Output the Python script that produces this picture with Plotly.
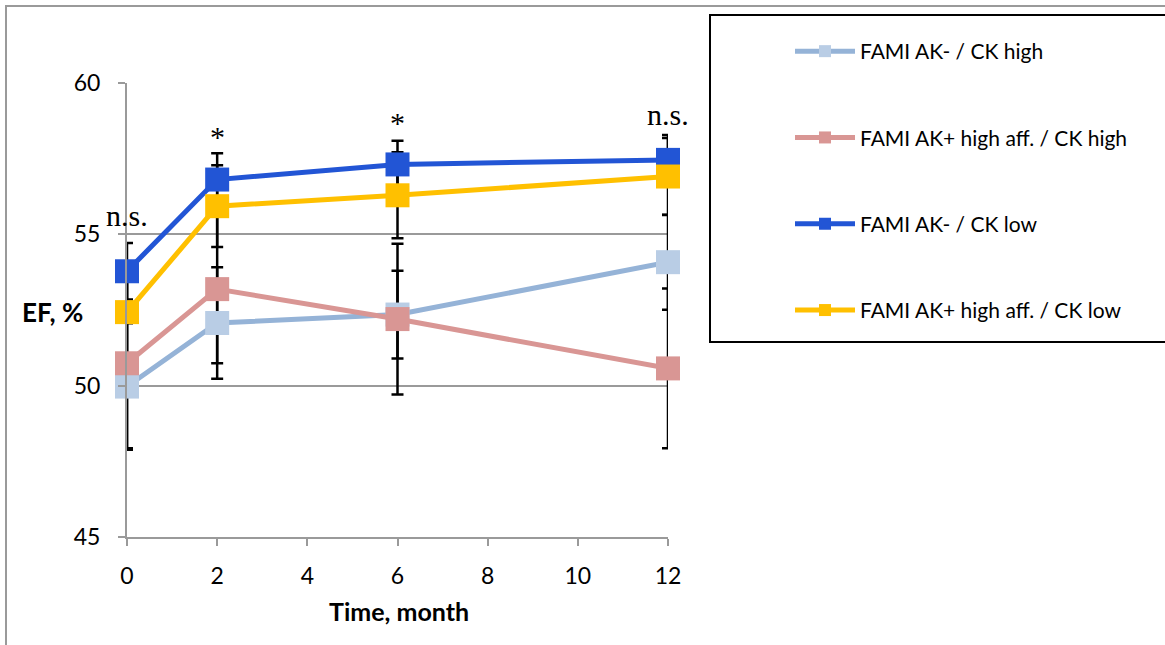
import plotly.graph_objects as go

W, H = 1165, 645
L, R, T, B = 127, 668, 83, 537  # plot area in px

months = [0, 2, 6, 12]
series_names = [
    "FAMI AK- / CK high",
    "FAMI AK+ high aff. / CK high",
    "FAMI AK- / CK low",
    "FAMI AK+ high aff. / CK low",
]
ef_ak_minus_ck_high = [49.97, 52.07, 52.35, 54.08]
ef_ak_plus_ck_high = [50.74, 53.19, 52.20, 50.57]
ef_ak_minus_ck_low = [53.78, 56.81, 57.31, 57.46]
ef_ak_plus_ck_low = [52.43, 55.93, 56.29, 56.91]

err_ak_minus_ck_high = [2.09, 1.84, 1.45, 1.57]
err_ak_plus_ck_high = [2.81, 2.45, 2.49, 2.64]
err_ak_minus_ck_low = [0.93, 0.87, 0.78, 0.82]
err_ak_plus_ck_low = [1.50, 1.35, 1.42, 1.27]

y_ticks = [45, 50, 55, 60]
x_ticks = [0, 2, 4, 6, 8, 10, 12]

# significance labels: (month, y, text)
sig_months = [0, 2, 6, 12]
sig_y = [55.62, 58.22, 58.68, 58.95]
sig_text = ["n.s.", "*", "*", "n.s."]

values = [ef_ak_minus_ck_high, ef_ak_plus_ck_high, ef_ak_minus_ck_low, ef_ak_plus_ck_low]
errors = [err_ak_minus_ck_high, err_ak_plus_ck_high, err_ak_minus_ck_low, err_ak_plus_ck_low]
line_colors = ["#95B3D7", "#D99694", "#2255D5", "#FFC000"]
marker_colors = ["#B9CDE5", "#D99694", "#2255D5", "#FFC000"]


def px2x(px):
    return (px - L) / (R - L)


def px2y(py):
    return (B - py) / (B - T)


fig = go.Figure()

# error bars first (beneath all lines and markers)
for vals, errs in zip(values, errors):
    fig.add_trace(go.Scatter(
        x=months, y=vals, mode="markers",
        marker=dict(size=2, color="rgba(0,0,0,0)"),
        error_y=dict(type="data", array=errs, visible=True, color="black",
                     thickness=2.5, width=6),
        showlegend=False, hoverinfo="skip", cliponaxis=False,
    ))

for i, (name, vals) in enumerate(zip(series_names, values)):
    fig.add_trace(go.Scatter(
        x=months, y=vals, mode="lines+markers", name=name,
        line=dict(color=line_colors[i], width=5),
        marker=dict(symbol="square", size=24, color=marker_colors[i]),
        legendgroup=str(i), cliponaxis=False,
    ))

annotations = [
    dict(text=t, x=m, y=y, xref="x", yref="y", showarrow=False,
         xanchor="center", yanchor="middle",
         font=dict(family="Liberation Serif", size=30, color="black"))
    for m, y, t in zip(sig_months, sig_y, sig_text)
]
annotations.append(dict(text="<b>EF, %</b>", x=px2x(52), y=px2y(312), xref="paper", yref="paper",
                        xanchor="center", yanchor="middle",
                        showarrow=False, font=dict(family="Lato", size=26, color="black")))
annotations.append(dict(text="<b>Time, month</b>", x=px2x(399), y=px2y(611), xref="paper", yref="paper",
                        xanchor="center", yanchor="middle",
                        showarrow=False, font=dict(family="Lato", size=25, color="black")))

shapes = [
    dict(type="rect", xref="paper", yref="paper", x0=px2x(6), x1=px2x(1175), y0=px2y(6), y1=px2y(660),
         line=dict(color="#9a9a9a", width=2), layer="below"),
    dict(type="rect", xref="paper", yref="paper", x0=px2x(710), x1=px2x(1175), y0=px2y(15), y1=px2y(342),
         line=dict(color="black", width=2), layer="below"),
]

fig.update_layout(
    width=W, height=H,
    margin=dict(l=L, r=W - R, t=T, b=H - B, pad=0),
    paper_bgcolor="white", plot_bgcolor="white",
    font=dict(family="Lato", size=20, color="black"),
    xaxis=dict(range=[0, 12], tickvals=x_ticks, showgrid=False, zeroline=False,
               showline=True, linecolor="#9a9a9a", linewidth=2,
               ticks="outside", ticklen=7, tickwidth=2, tickcolor="#9a9a9a",
               tickfont=dict(family="Lato", size=23), ticklabelstandoff=10),
    yaxis=dict(range=[45, 60], tickvals=y_ticks, showgrid=True, gridcolor="#9a9a9a", gridwidth=2,
               zeroline=False, showline=True, linecolor="#9a9a9a", linewidth=2,
               ticks="outside", ticklen=7, tickwidth=2, tickcolor="#9a9a9a",
               tickfont=dict(family="Lato", size=23), ticklabelstandoff=13),
    legend=dict(x=px2x(790), y=px2y(31), xanchor="left", yanchor="top",
                font=dict(family="Lato", size=21), itemwidth=60, tracegroupgap=56,
                itemsizing="constant",
                bgcolor="rgba(0,0,0,0)", borderwidth=0),
    annotations=annotations,
    shapes=shapes,
)

fig.write_html("out.html")
